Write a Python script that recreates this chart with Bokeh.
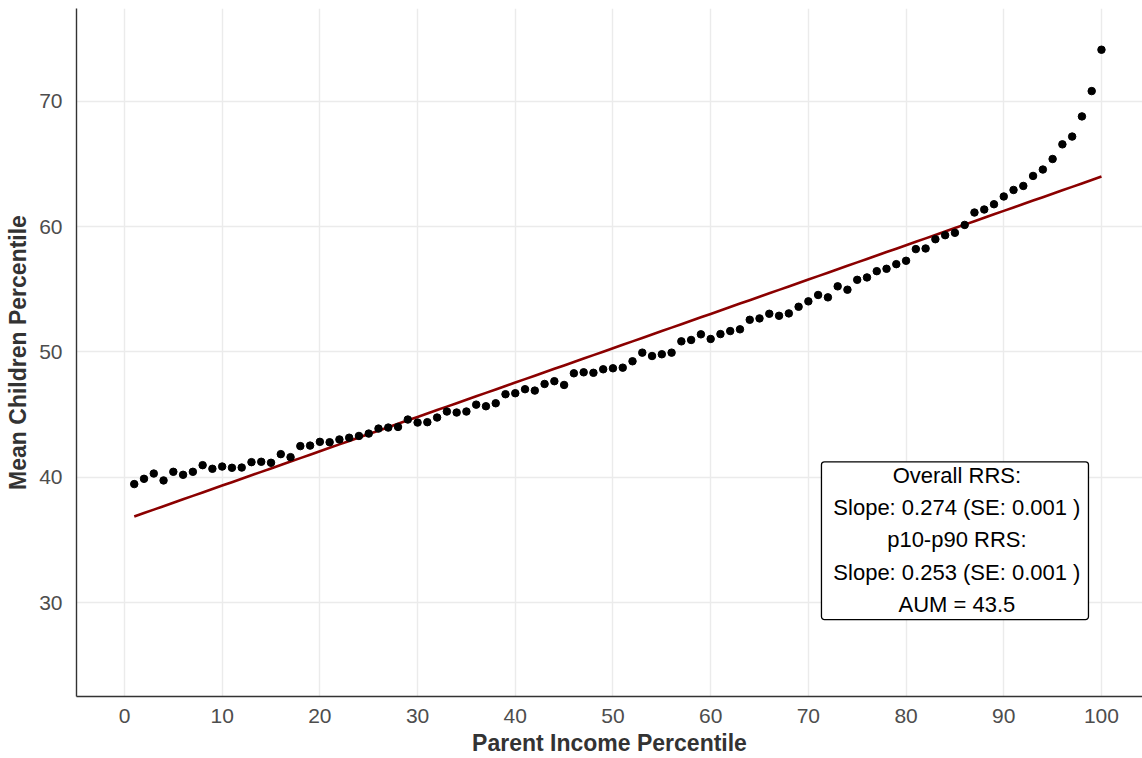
from bokeh.plotting import figure
from bokeh.models import Range1d, FixedTicker, Label, BoxAnnotation, ColumnDataSource
from bokeh.embed import file_html
from bokeh.resources import INLINE

# Parent income percentile (1..100) and mean child income percentile
parent_pct = list(range(1, 101))
child_mean = [
    39.46, 39.88, 40.30, 39.75, 40.44, 40.20, 40.44, 40.97, 40.68, 40.86,
    40.76, 40.78, 41.21, 41.24, 41.16, 41.85, 41.61, 42.49, 42.53, 42.83,
    42.80, 43.02, 43.16, 43.30, 43.49, 43.89, 43.97, 44.02, 44.61, 44.37,
    44.40, 44.77, 45.25, 45.17, 45.25, 45.80, 45.67, 45.91, 46.63, 46.71,
    47.03, 46.92, 47.45, 47.67, 47.37, 48.30, 48.38, 48.34, 48.62, 48.70,
    48.75, 49.26, 49.95, 49.68, 49.82, 49.95, 50.85, 50.96, 51.41, 51.04,
    51.43, 51.67, 51.81, 52.57, 52.68, 53.05, 52.89, 53.08, 53.61, 54.04,
    54.55, 54.36, 55.24, 54.97, 55.76, 55.95, 56.45, 56.64, 57.01, 57.28,
    58.21, 58.26, 59.00, 59.32, 59.51, 60.14, 61.13, 61.37, 61.79, 62.41,
    62.93, 63.25, 64.05, 64.56, 65.40, 66.57, 67.19, 68.80, 70.82, 74.12,
]

# Overall rank-rank regression
slope = 0.274
intercept = 36.6
fit = [intercept + slope * x for x in parent_pct]

x_ticks = list(range(0, 101, 10))
y_ticks = [30, 40, 50, 60, 70]

stats_lines = [
    "Overall RRS:",
    "Slope: 0.274 (SE: 0.001 )",
    "p10-p90 RRS:",
    "Slope: 0.253 (SE: 0.001 )",
    "AUM = 43.5",
]

FONT = "Liberation Sans"

p = figure(
    width=1142, height=758,
    output_backend="svg", toolbar_location=None,
    x_range=Range1d(-4.91, 104.2), y_range=Range1d(22.51, 77.41),
    min_border_left=76, min_border_right=0, min_border_top=8, min_border_bottom=58,
)
p.outline_line_color = None
p.background_fill_color = "white"
p.border_fill_color = "white"

src = ColumnDataSource(dict(x=parent_pct, y=child_mean, fit=fit))
p.line("x", "fit", source=src, line_color="#8b0000", line_width=2.6)
p.scatter("x", "y", source=src, size=7.5, fill_color="black", line_color="black")

for ax in (p.xaxis[0], p.yaxis[0]):
    ax.axis_line_color = "#333333"
    ax.axis_line_width = 1.4
    ax.major_tick_line_color = None
    ax.minor_tick_line_color = None
    ax.major_label_text_font = FONT
    ax.major_label_text_font_size = "21px"
    ax.major_label_text_color = "#4d4d4d"
    ax.axis_label_text_font = FONT
    ax.axis_label_text_font_style = "bold"
    ax.axis_label_text_font_size = "23px"
    ax.axis_label_text_color = "#333333"

p.xaxis.ticker = FixedTicker(ticks=x_ticks)
p.yaxis.ticker = FixedTicker(ticks=y_ticks)
p.xaxis.axis_label = "Parent Income Percentile"
p.yaxis.axis_label = "Mean Children Percentile"
p.xaxis.major_label_standoff = 6
p.yaxis.major_label_standoff = 8
p.xaxis.axis_label_standoff = 4
p.yaxis.axis_label_standoff = 5

p.xgrid.ticker = FixedTicker(ticks=x_ticks)
p.ygrid.ticker = FixedTicker(ticks=y_ticks)
p.grid.grid_line_color = "#ebebeb"
p.grid.grid_line_width = 1.4
p.xgrid.minor_grid_line_color = None
p.ygrid.minor_grid_line_color = None

# Statistics box
box = BoxAnnotation(left=71.34, right=98.67, top=41.24, bottom=28.65,
                    fill_color="white", fill_alpha=1.0,
                    line_color="black", line_alpha=1.0, line_width=1.3,
                    border_radius=3)
p.add_layout(box)
line_y = [40.12, 37.57, 35.02, 32.43, 29.84]
for txt, yy in zip(stats_lines, line_y):
    p.add_layout(Label(x=85.2, y=yy, text=txt, text_align="center",
                       text_baseline="middle", text_font=FONT,
                       text_font_size="22px", text_color="black"))

open("out.html", "w").write(file_html(p, INLINE))
